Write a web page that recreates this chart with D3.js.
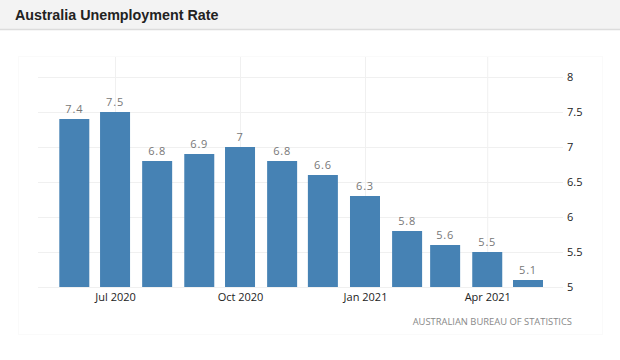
<!DOCTYPE html>
<html>
<head>
<meta charset="utf-8">
<script src="https://cdn.jsdelivr.net/npm/d3@7"></script>
<style>
  body { margin: 0; background: #fff; font-family: "Open Sans", Arial, sans-serif; }
  .grid line { stroke: #f0f0f0; }
  .grid .domain { display: none; }
  .yAxis .domain, .yAxis line, .xAxis .domain, .xAxis line { display: none; }
  .yAxis text, .xAxis text { fill: #222; font-size: 11px; font-family: "Open Sans", Arial, sans-serif; }
</style>
</head>
<body>
<div id="chart"></div>
<script>
// data
var months = ["2020-06", "2020-07", "2020-08", "2020-09", "2020-10", "2020-11", "2020-12",
              "2021-01", "2021-02", "2021-03", "2021-04", "2021-05"];
var rates = [7.4, 7.5, 6.8, 6.9, 7, 6.8, 6.6, 6.3, 5.8, 5.6, 5.5, 5.1];
var xTicks = ["2020-07", "2020-10", "2021-01", "2021-04"];
var yTicks = [5, 5.5, 6, 6.5, 7, 7.5, 8];
var title = "Australia Unemployment Rate";
var source = "AUSTRALIAN BUREAU OF STATISTICS";

var W = 620, H = 360;
var parse = d3.timeParse("%Y-%m");
var data = months.map((m, i) => ({ date: parse(m), value: rates[i] }));

var svg = d3.select("#chart").append("svg")
    .attr("width", W).attr("height", H);

// header band
svg.append("rect").attr("x", 0).attr("y", 0).attr("width", W).attr("height", 29).attr("fill", "#f3f3f3");
svg.append("line").attr("x1", 0).attr("x2", W).attr("y1", 29.5).attr("y2", 29.5)
    .attr("stroke", "#dcdcdc").attr("stroke-width", 1.5);
svg.append("text").attr("x", 15).attr("y", 19.5)
    .attr("font-family", "Arial, 'Liberation Sans', sans-serif")
    .attr("font-weight", "bold").attr("font-size", "14.3px").attr("fill", "#222")
    .text(title);

// faint frame
svg.append("rect").attr("x", 18.5).attr("y", 56.5).attr("width", 584).attr("height", 278)
    .attr("fill", "none").attr("stroke", "#fafafa");

var plotLeft = 38, plotRight = 563, plotTop = 77, plotBottom = 287;

var x = d3.scaleTime()
    .domain([parse("2020-06"), parse("2021-05")])
    .range([74.3, 528]);
var y = d3.scaleLinear().domain([5, 8]).range([plotBottom, plotTop]);

// horizontal grid
svg.append("g").attr("class", "grid")
    .attr("transform", "translate(" + plotLeft + ",0)")
    .call(d3.axisRight(y).tickValues(yTicks).tickSize(plotRight - plotLeft).tickFormat(""));

// vertical grid
svg.append("g").attr("class", "grid")
    .attr("transform", "translate(0," + (plotTop - 20) + ")")
    .call(d3.axisBottom(x).tickValues(xTicks.map(parse)).tickSize(plotBottom - plotTop + 20).tickFormat(""));

// bars
var bw = 30;
svg.selectAll(".bar").data(data).enter().append("rect")
    .attr("class", "bar")
    .attr("x", d => x(d.date) - bw / 2)
    .attr("y", d => y(d.value))
    .attr("width", bw)
    .attr("height", d => y(5) - y(d.value))
    .attr("fill", "#4682b4");

// value labels
svg.selectAll(".lbl").data(data).enter().append("text")
    .attr("class", "lbl")
    .attr("x", d => x(d.date))
    .attr("y", d => y(d.value) - 6)
    .attr("text-anchor", "middle")
    .attr("font-family", "'Open Sans', sans-serif")
    .attr("letter-spacing", "0.8px")
    .attr("font-size", "11px").attr("fill", "#777")
    .text(d => d.value);

// y axis on right
svg.append("g").attr("class", "yAxis")
    .attr("transform", "translate(" + (plotRight + 4) + ",0)")
    .call(d3.axisRight(y).tickValues(yTicks).tickSize(0).tickPadding(0).tickFormat(d3.format("")));

// x axis
svg.append("g").attr("class", "xAxis")
    .attr("transform", "translate(0," + plotBottom + ")")
    .call(d3.axisBottom(x).tickValues(xTicks.map(parse)).tickSize(0).tickPadding(6).tickFormat(d3.timeFormat("%b %Y")));

// source
svg.append("text").attr("x", 572).attr("y", 325)
    .attr("text-anchor", "end")
    .attr("font-size", "9.4px").attr("fill", "#888")
    .text(source);
</script>
</body>
</html>
